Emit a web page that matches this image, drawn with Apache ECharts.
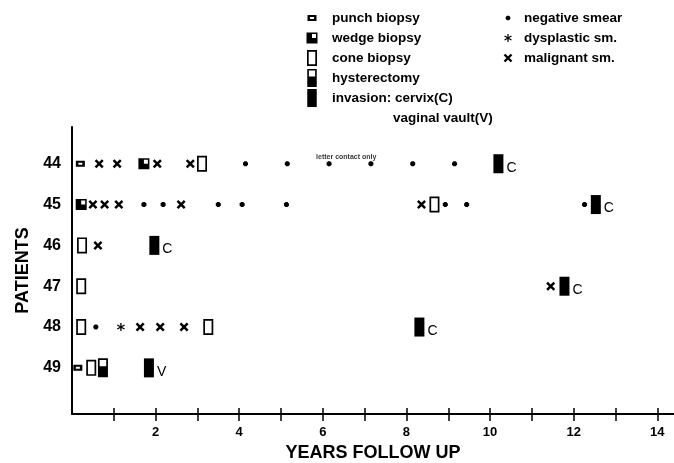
<!DOCTYPE html>
<html><head><meta charset="utf-8">
<script src="https://cdn.jsdelivr.net/npm/echarts@6/dist/echarts.min.js"></script>
<style>html,body{margin:0;padding:0;background:#fff}#c{width:674px;height:463px}</style>
</head><body><div id="c"></div>
<script>
// ---------- data (years of follow-up, patient number) ----------
const patients = [44, 45, 46, 47, 48, 49];
const punchBiopsy = [[0.2, 44], [0.14, 49]];
const wedgeBiopsy = [[1.72, 44], [0.22, 45]];
const coneBiopsy = [[3.11, 44], [8.67, 45], [0.24, 46], [0.22, 47], [0.22, 48], [3.26, 48], [0.46, 49]];
const hysterectomy = [[0.74, 49]];
const invasion = [[10.2, 44], [12.53, 45], [1.97, 46], [11.78, 47], [8.31, 48], [1.84, 49]];
const invasionSite = ['C', 'C', 'C', 'C', 'C', 'V'];
const negativeSmear = [[4.15, 44], [5.15, 44], [6.15, 44], [7.15, 44], [8.15, 44], [9.15, 44],
  [1.72, 45], [2.18, 45], [3.5, 45], [4.07, 45], [5.13, 45], [8.93, 45], [9.44, 45], [12.26, 45],
  [0.57, 48]];
const dysplasticSmear = [[1.17, 48]];
const malignantSmear = [[0.65, 44], [1.08, 44], [2.04, 44], [2.83, 44],
  [0.5, 45], [0.78, 45], [1.12, 45], [2.61, 45], [8.36, 45],
  [0.62, 46], [11.45, 47], [1.63, 48], [2.11, 48], [2.68, 48]];
const noteText = 'letter contact only';
const notePoint = [[6.56, 44]];
const xTickValues = [1, 2, 3, 4, 5, 6, 7, 8, 9, 10, 11, 12, 13, 14];
const xLabelValues = [2, 4, 6, 8, 10, 12, 14];

// ---------- symbol shapes ----------
const f = n => (+n).toFixed(2);
function rectCW(x, y, w, h) { return `M${f(x)},${f(y)}L${f(x + w)},${f(y)}L${f(x + w)},${f(y + h)}L${f(x)},${f(y + h)}Z`; }
function rectCCW(x, y, w, h) { return `M${f(x)},${f(y)}L${f(x)},${f(y + h)}L${f(x + w)},${f(y + h)}L${f(x + w)},${f(y)}Z`; }
function poly(pts) { return 'M' + pts.map(p => f(p[0]) + ',' + f(p[1])).join('L') + 'Z'; }
function bar(x1, y1, x2, y2, t) {
  const dx = x2 - x1, dy = y2 - y1, L = Math.hypot(dx, dy);
  const nx = -dy / L * t / 2, ny = dx / L * t / 2;
  return poly([[x1 + nx, y1 + ny], [x2 + nx, y2 + ny], [x2 - nx, y2 - ny], [x1 - nx, y1 - ny]]);
}
function octagon(cx, cy, r) {
  const pts = [];
  for (let i = 0; i < 8; i++) { const a = Math.PI / 8 + i * Math.PI / 4; pts.push([cx + r * Math.cos(a), cy + r * Math.sin(a)]); }
  return poly(pts);
}
const SHAPES = {
  punch: { w: 9, h: 6, path: (x, y) => rectCW(x, y, 9, 6) + rectCCW(x + 2.5, y + 2, 4, 2) },
  wedge: { w: 11, h: 11, path: (x, y) => rectCW(x, y, 11, 11) + rectCCW(x + 5.5, y + 1.5, 4, 4) },
  cone: { w: 10, h: 16, path: (x, y) => rectCW(x, y, 10, 16) + rectCCW(x + 1.7, y + 1.7, 6.6, 12.6) },
  hyst: { w: 10, h: 19, path: (x, y) => rectCW(x, y, 10, 19) + rectCCW(x + 1.7, y + 1.7, 6.6, 6.3) },
  inv: { w: 10, h: 19, path: (x, y) => rectCW(x, y, 10, 19) },
  dot: { w: 5, h: 5, path: (x, y) => octagon(x + 2.5, y + 2.5, 2.5) },
  ast: { w: 8, h: 8, path: (x, y) => bar(x + 4, y, x + 4, y + 8, 1.2) + bar(x + 0.54, y + 2, x + 7.46, y + 6, 1.2) + bar(x + 0.54, y + 6, x + 7.46, y + 2, 1.2) },
  cross: { w: 9, h: 9, path: (x, y) => bar(x + 1, y + 1, x + 8, y + 8, 2.4) + bar(x + 1, y + 8, x + 8, y + 1, 2.4) }
};
function sym(k) { return 'path://' + SHAPES[k].path(0, 0); }
function legendIcon(k, W, H) {
  const s = SHAPES[k];
  return 'path://M0,0L0,0ZM' + W + ',' + H + 'L' + W + ',' + H + 'Z' + s.path((W - s.w) / 2, (H - s.h) / 2);
}

const FONT = "'Liberation Sans', Arial, Helvetica, sans-serif";
const BLACK = '#000';

function scatter(name, data, k, extra) {
  return Object.assign({
    type: 'scatter', name, data, symbol: sym(k), symbolSize: [SHAPES[k].w, SHAPES[k].h],
    itemStyle: { color: BLACK, opacity: 1, borderWidth: 0 }, silent: true, z: 3
  }, extra || {});
}

const seriesDefs = [
  ['punch biopsy', punchBiopsy, 'punch'],
  ['wedge biopsy', wedgeBiopsy, 'wedge'],
  ['cone biopsy', coneBiopsy, 'cone'],
  ['hysterectomy', hysterectomy, 'hyst'],
  ['invasion: cervix(C)', invasion, 'inv'],
  ['negative smear', negativeSmear, 'dot'],
  ['dysplastic sm.', dysplasticSmear, 'ast'],
  ['malignant sm.', malignantSmear, 'cross']
];

const series = seriesDefs.map(([n, d, k]) => {
  const extra = {};
  if (k === 'inv') {
    extra.label = {
      show: true, position: 'right', distance: 3, offset: [0, 4],
      formatter: p => invasionSite[p.dataIndex],
      color: BLACK, fontSize: 14, fontFamily: FONT
    };
  }
  return scatter(n, d, k, extra);
});
series.push({
  type: 'scatter', name: 'note', data: notePoint, symbolSize: 0, silent: true,
  label: { show: true, position: 'top', distance: 3, formatter: noteText, color: BLACK, fontSize: 7, fontWeight: 'bold', fontFamily: FONT }
});

const legendItem = (W, H) => ([n, d, key]) => ({
  name: n, icon: legendIcon(key, W, H), itemStyle: { color: BLACK, borderWidth: 0, opacity: 1 }
});
const legendText = { color: BLACK, fontSize: 13.5, fontWeight: 'bold', fontFamily: FONT };

const option = {
  backgroundColor: '#fff',
  animation: false,
  grid: { left: 72, right: 0, top: 127, bottom: 49, containLabel: false, outerBoundsMode: 'none' },
  legend: [
    { orient: 'vertical', left: 297, top: 9, itemWidth: 30, itemHeight: 18, itemGap: 2, padding: 0,
      selectedMode: false, textStyle: legendText, data: seriesDefs.slice(0, 5).map(legendItem(30, 18)) },
    { orient: 'vertical', left: 497, top: 9, itemWidth: 22, itemHeight: 18, itemGap: 2, padding: 0,
      selectedMode: false, textStyle: legendText, data: seriesDefs.slice(5).map(legendItem(22, 18)) }
  ],
  graphic: [{ type: 'text', left: 393, top: 111, style: { text: 'vaginal vault(V)', fill: BLACK, font: 'bold 13.5px ' + FONT } }],
  xAxis: [{
    type: 'value', min: 0, max: 14.4, position: 'bottom',
    name: 'YEARS FOLLOW UP', nameLocation: 'middle', nameGap: 29,
    nameTextStyle: { color: BLACK, fontSize: 18, fontWeight: 'bold', fontFamily: FONT },
    axisLine: { show: true, onZero: false, lineStyle: { color: BLACK, width: 2 } },
    axisTick: { show: true, length: 7, inside: false, customValues: xTickValues, lineStyle: { color: BLACK, width: 1.5 } },
    axisLabel: { show: true, margin: 12, customValues: xLabelValues, color: BLACK, fontSize: 13, fontWeight: 'bold', fontFamily: FONT },
    splitLine: { show: false }
  }, {
    type: 'value', min: 0, max: 14.4, position: 'top', offset: -287,
    axisLine: { show: false }, axisLabel: { show: false }, splitLine: { show: false },
    axisTick: { show: true, length: 6, inside: false, customValues: xTickValues, lineStyle: { color: BLACK, width: 1.5 } }
  }],
  yAxis: [{
    type: 'value', min: 43.1, max: 50.13, inverse: true,
    name: 'PATIENTS', nameLocation: 'middle', nameGap: 40, nameRotate: 90,
    nameTextStyle: { color: BLACK, fontSize: 18, fontWeight: 'bold', fontFamily: FONT },
    axisLine: { show: true, onZero: false, lineStyle: { color: BLACK, width: 2 } },
    axisTick: { show: false },
    axisLabel: { show: true, margin: 11, customValues: patients, color: BLACK, fontSize: 16, fontWeight: 'bold', fontFamily: FONT },
    splitLine: { show: false }
  }],
  series
};
const chart = echarts.init(document.getElementById('c'), null, { renderer: 'canvas' });
chart.setOption(option);
</script></body></html>
